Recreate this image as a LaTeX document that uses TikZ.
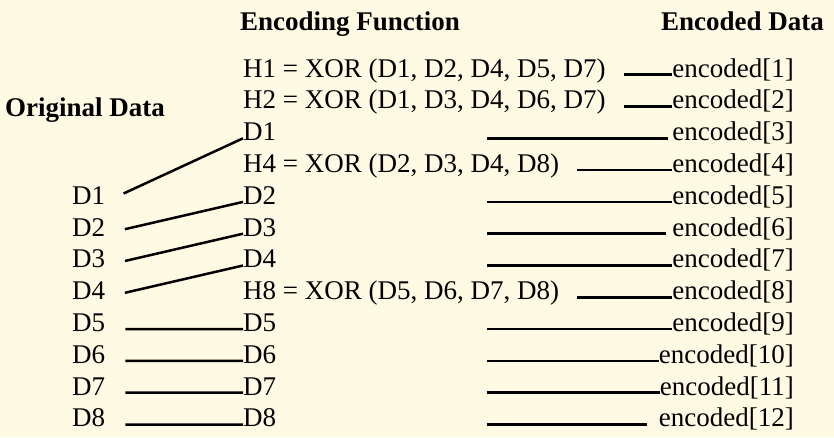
\documentclass[tikz,border=0pt]{standalone}
\usepackage{fontspec}
\setmainfont{Liberation Serif}
\definecolor{paper}{HTML}{FFFAE3}

\begin{document}
\begin{tikzpicture}[x=1pt, y=-1pt,
  every node/.style={font=\fontsize{27}{32}\selectfont, inner sep=0pt},
  head/.style={font=\fontsize{27}{32}\selectfont\bfseries},
  wire/.style={line width=2.5pt}]
% Background
\fill[paper] (0,0) rectangle (834,437);

% Column heads
\node[head, anchor=base] (headF) at (350,30) {Encoding Function};
\node[head, anchor=base east] (headE) at (824,30) {Encoded Data};
\node[head, anchor=base west] (headO) at (5,116) {Original Data};

% Encoding function column
\foreach \txt [count=\i] in {{H1 = XOR (D1, D2, D4, D5, D7)}, {H2 = XOR (D1, D3, D4, D6, D7)}, D1,
    {H4 = XOR (D2, D3, D4, D8)}, D2, D3, D4, {H8 = XOR (D5, D6, D7, D8)}, D5, D6, D7, D8}
  \node[anchor=base west] (f\i) at (243, {45.2+31.8*\i}) {\txt};

% Encoded data column
\foreach \i in {1,...,12}
  \node[anchor=base east] (e\i) at (794, {45.2+31.8*\i}) {encoded[\i]};

% Original data column
\foreach \i in {1,...,8}
  \node[anchor=base west] (o\i) at (72, {172.4+31.8*\i}) {D\i};

% Original data to encoding function
\foreach \a/\b in {1/3, 2/5, 3/6, 4/7, 5/9, 6/10, 7/11, 8/12}
  \draw[wire, shorten <=20pt] (o\a.mid east) -- (f\b.mid west);

% Parity rows to encoded data
\foreach \i in {1, 2, 4, 8}
  \draw[wire, shorten <=18pt] (f\i.mid east) -- (e\i.mid west);

% Data rows to encoded data
\coordinate (tap) at (487,0);
\foreach \i/\gap in {3/4pt, 5/0pt, 6/6pt, 7/0pt, 9/0pt, 10/0pt, 11/0pt, 12/12pt}
  \draw[wire, shorten >=\gap] (f\i.mid east -| tap) -- (e\i.mid west);

\end{tikzpicture}
\end{document}
